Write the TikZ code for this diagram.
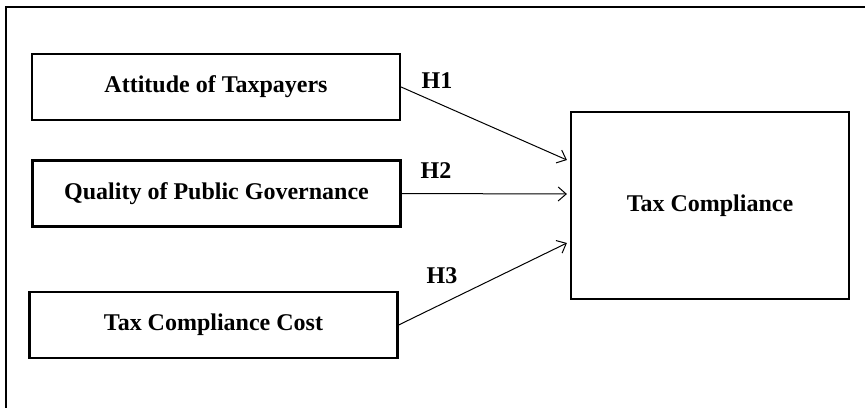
\documentclass[tikz,border=0pt]{standalone}
\usepackage{fontspec}
\setmainfont{Liberation Serif}
\usetikzlibrary{arrows.meta}
\begin{document}
\begin{tikzpicture}[x=0.5pt,y=-0.5pt,
		factor/.style={draw, line width=1.1pt, minimum width=184pt, minimum height=33pt, inner sep=0pt, font=\bfseries\fontsize{12}{14}\selectfont},
		hyp/.style={font=\bfseries\fontsize{12}{14}\selectfont},
		link/.style={->, line width=0.5pt, >={Straight Barb[length=4pt,width=7pt]}}]
		\useasboundingbox (0,0) rectangle (865,407);
		\draw [line width=0.8pt] (6,420) -- (6,7) -- (880,7);
		\node [factor] (att) at (216,87) {Attitude of Taxpayers};
		\node [factor] (gov) at (216.5,193.5) {Quality of Public Governance};
		\node [factor] (cost) at (213.5,325) {Tax Compliance Cost};
		\node [factor, minimum width=139pt, minimum height=93.5pt] (tc) at (710,205.5) {Tax Compliance};
		\draw [link] (att.east) -- ([xshift=-1.5pt,yshift=22.75pt]tc.west);
		\draw [link] (gov.east) -- ([xshift=-1.5pt,yshift=5.75pt]tc.west);
		\draw [link] (cost.east) -- ([xshift=-1.5pt,yshift=-18.75pt]tc.west);
		\node [hyp] (h1) at (437,81) {H1};
		\node [hyp] (h2) at (436,171) {H2};
		\node [hyp] (h3) at (442,276) {H3};
\end{tikzpicture}
\end{document}
